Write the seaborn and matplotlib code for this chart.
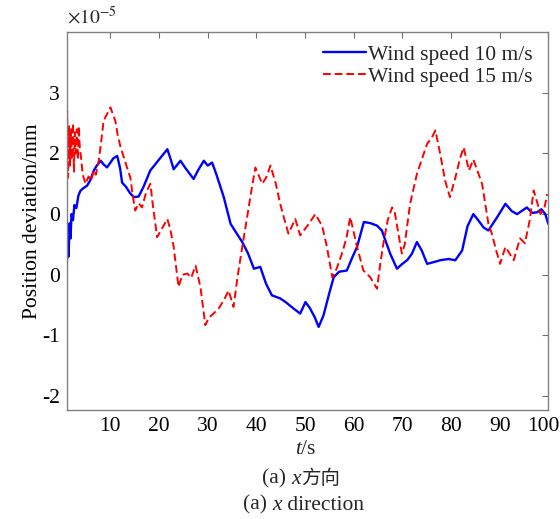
import matplotlib
matplotlib.use("Agg")
import matplotlib.pyplot as plt
from matplotlib.transforms import ScaledTranslation
import seaborn as sns
import pandas as pd

t_10 = [1.0, 1.2, 1.4, 1.6, 1.8, 2.0, 2.3, 2.6, 3.0, 3.4, 3.8, 4.3, 5.2, 5.8, 6.6, 7.2, 8.0, 8.6, 9.3, 10.0,
        10.6, 11.4, 12.0, 12.4, 13.2, 14.0, 14.8, 15.8, 16.8, 18.2, 19.5, 20.5, 21.7, 22.4, 23.0, 24.4, 25.5,
        27.1, 28.0, 29.2, 30.0, 30.9, 31.8, 33.3, 34.7, 35.8, 37.1, 38.3, 39.5, 40.8, 42.0, 43.2, 44.9, 46.0,
        47.7, 49.0, 50.1, 51.0, 52.0, 52.8, 53.8, 55.0, 55.9, 57.0, 58.6, 59.8, 60.7, 62.1, 63.5, 64.8, 65.8,
        66.6, 67.5, 68.9, 70.0, 71.0, 72.0, 73.0, 74.0, 75.1, 77.0, 77.8, 79.5, 80.9, 82.3, 83.4, 84.6, 85.6,
        86.7, 87.7, 89.5, 91.2, 92.5, 93.6, 95.6, 96.7, 97.7, 98.6, 99.4, 100.0]
dev_10 = [0.07, 0.6, 0.3, 0.85, 0.6, 1.0, 0.9, 1.15, 1.1, 1.3, 1.38, 1.42, 1.47, 1.55, 1.72, 1.8, 1.88, 1.82,
          1.77, 1.85, 1.92, 1.96, 1.75, 1.52, 1.45, 1.35, 1.28, 1.29, 1.45, 1.72, 1.85, 1.95, 2.07, 1.9, 1.74,
          1.88, 1.75, 1.58, 1.72, 1.88, 1.8, 1.85, 1.65, 1.28, 0.84, 0.7, 0.54, 0.35, 0.1, 0.13, -0.15, -0.34,
          -0.39, -0.45, -0.56, -0.64, -0.45, -0.55, -0.7, -0.86, -0.67, -0.3, -0.04, 0.05, 0.07, 0.3, 0.46,
          0.87, 0.85, 0.81, 0.73, 0.55, 0.35, 0.1, 0.18, 0.24, 0.35, 0.54, 0.4, 0.18, 0.22, 0.24, 0.26, 0.24,
          0.4, 0.8, 1.0, 0.9, 0.78, 0.73, 0.95, 1.17, 1.05, 1.0, 1.11, 1.02, 1.03, 1.08, 1.0, 0.84]

t_15 = [1.0, 1.1, 1.3, 1.5, 1.7, 1.9, 2.1, 2.3, 2.5, 2.7, 2.9, 3.1, 3.3, 3.5, 3.7, 4.0, 4.3, 4.9, 5.5, 6.0,
        6.6, 7.0, 7.6, 8.1, 8.6, 9.3, 10.0, 10.5, 11.0, 11.5, 12.1, 12.7, 13.4, 14.1, 14.6, 15.1, 15.8, 16.5,
        17.3, 18.2, 18.8, 19.6, 20.5, 21.7, 22.3, 23.0, 24.0, 24.8, 25.8, 26.6, 27.5, 28.5, 29.5, 30.3, 31.2,
        32.3, 33.3, 34.3, 35.3, 36.2, 37.1, 38.1, 39.0, 39.8, 41.2, 42.0, 42.9, 44.0, 44.9, 45.8, 46.6, 48.0,
        49.0, 50.8, 52.1, 53.5, 54.5, 55.6, 56.5, 57.6, 58.5, 59.3, 60.7, 62.0, 63.4, 64.8, 65.5, 66.2, 67.0,
        67.9, 68.4, 69.9, 70.5, 71.6, 73.0, 74.0, 75.1, 76.0, 76.8, 77.8, 78.8, 79.8, 80.9, 81.8, 82.6, 83.7,
        84.6, 85.5, 86.4, 87.7, 88.4, 89.3, 90.1, 91.2, 92.9, 94.2, 95.2, 96.2, 97.0, 97.7, 98.4, 99.2, 99.8]
dev_15 = [0.1, 2.7, 1.6, 2.45, 1.8, 2.4, 1.9, 2.5, 1.7, 2.35, 2.0, 2.4, 1.9, 2.45, 2.1, 1.9, 1.65, 1.5, 1.62,
          1.55, 1.72, 1.65, 1.88, 2.2, 2.54, 2.65, 2.76, 2.65, 2.54, 2.3, 2.1, 1.95, 1.77, 1.6, 1.3, 1.06, 1.18,
          1.11, 1.35, 1.5, 1.1, 0.62, 0.75, 0.92, 0.75, 0.46, -0.2, 0.0, 0.02, -0.05, 0.15, -0.2, -0.83, -0.7,
          -0.64, -0.55, -0.42, -0.26, -0.53, 0.0, 0.46, 0.95, 1.4, 1.77, 1.5, 1.6, 1.8, 1.5, 1.17, 0.9, 0.68,
          0.92, 0.65, 0.84, 1.0, 0.81, 0.46, -0.04, 0.1, 0.35, 0.6, 0.95, 0.46, 0.07, -0.04, -0.23, 0.2, 0.56,
          0.9, 1.11, 1.05, 0.35, 0.5, 1.17, 1.66, 1.9, 2.16, 2.25, 2.38, 1.99, 1.55, 1.28, 1.6, 1.9, 2.1, 1.72,
          1.9, 1.7, 1.5, 0.84, 0.68, 0.4, 0.18, 0.46, 0.24, 0.6, 0.52, 0.9, 1.39, 1.2, 1.0, 1.1, 1.33]

x_ticks = [10, 20, 30, 40, 50, 60, 70, 80, 90, 100]
y_ticks = [3, 2, 1, 0, -1, -2]
y_tick_labels = ["3", "2", "0", "0", "-1", "-2"]
series_labels = ["Wind speed 10 m/s", "Wind speed 15 m/s"]

FS = 15.5

sns.set_theme(style="white")
plt.rcParams['font.family'] = ['Liberation Serif', 'Noto Sans CJK SC']
plt.rcParams['mathtext.fontset'] = 'stix'

fig = plt.figure(figsize=(5.6, 5.19), dpi=100)
ax = fig.add_axes([0.119, 0.21, 0.860, 0.728])

df10 = pd.DataFrame({"t": t_10, "dev": dev_10})
df15 = pd.DataFrame({"t": t_15, "dev": dev_15})
sns.lineplot(data=df10, x="t", y="dev", ax=ax, color="#0000FF", lw=1.7, label=series_labels[0], sort=False)
sns.lineplot(data=df15, x="t", y="dev", ax=ax, color="#FF0000", lw=1.4, label=series_labels[1], sort=False)
ax.lines[1].set_dashes([4, 2])

ax.set_xlim(1, 100)
ax.set_ylim(-2.23, 4.0)
ax.set_xticks(x_ticks)
ax.set_yticks(y_ticks)
ax.set_yticklabels(y_tick_labels)
ax.tick_params(direction="in", length=4, width=0.8, color="#707070", top=True, right=True,
               labelsize=FS, labelcolor="black", pad=5)
for s in ax.spines.values():
    s.set_color("#808080")
    s.set_linewidth(1.0)
ax.set_xlabel("")
ax.set_ylabel("Position deviation/mm", fontsize=FS, color="black", labelpad=0)

# shift last x tick label slightly left so it fits
lbl = ax.get_xticklabels()[-1]
lbl.set_transform(lbl.get_transform() + ScaledTranslation(-5 / 100, 0, fig.dpi_scale_trans))

leg = ax.legend(loc="upper right", frameon=False, fontsize=FS, handlelength=2.0, handletextpad=0.1,
                labelspacing=0.1, borderaxespad=0.0, bbox_to_anchor=(0.985, 0.99))

fig.text(0.119, 0.954, r"$\times 10^{-5}$", fontsize=14, ha="left", va="baseline")

# x label: italic t + /s
t1 = fig.text(0.537, 0.126, "t", fontsize=FS, style="italic", ha="right", va="baseline")
fig.canvas.draw()
ax.annotate("/s", xy=(1, 0), xycoords=t1, fontsize=FS, ha="left", va="bottom")

# captions
c1 = fig.text(0.52, 0.068, "(a) ", fontsize=FS, ha="right", va="baseline")
c2 = ax.annotate("x", xy=(1, 0), xycoords=c1, fontsize=FS, style="italic", ha="left", va="bottom")
ax.annotate("方向", xy=(1, 0), xycoords=c2, fontsize=14, ha="left", va="bottom",
            family=["Noto Sans CJK SC"])
d1 = fig.text(0.486, 0.018, "(a) ", fontsize=FS, ha="right", va="baseline")
d2 = ax.annotate("x", xy=(1, 0), xycoords=d1, fontsize=FS, style="italic", ha="left", va="bottom")
ax.annotate(" direction", xy=(1, 0), xycoords=d2, fontsize=FS, ha="left", va="bottom")

fig.savefig("out.png", dpi=100)
